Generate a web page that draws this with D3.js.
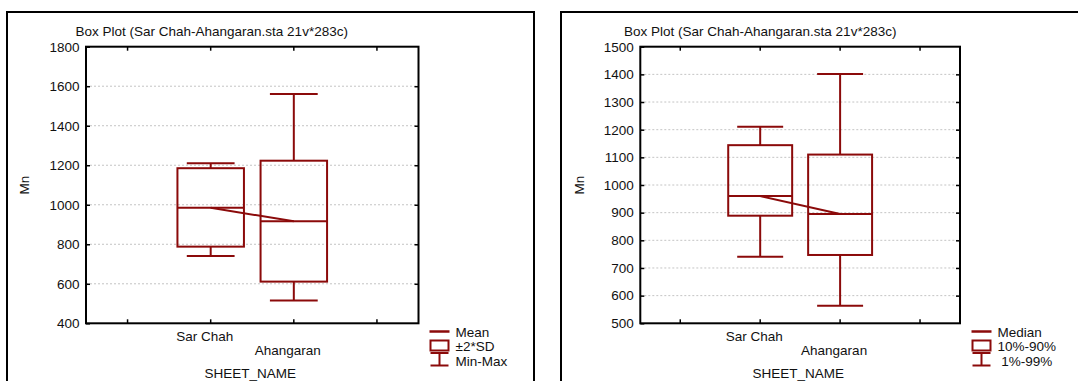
<!DOCTYPE html>
<html>
<head>
<meta charset="utf-8">
<script src="https://cdn.jsdelivr.net/npm/d3@7"></script>
<style>
  html, body { margin: 0; padding: 0; background: #fff; }
  svg { display: block; font-family: "Liberation Sans", Arial, sans-serif; }
  text { fill: #111; }
</style>
</head>
<body>
<svg id="chart" width="1078" height="381"></svg>
<script>
// Mn box plots for the two sheets
const categories = ["Sar Chah", "Ahangaran"];
const titleText = "Box Plot (Sar Chah-Ahangaran.sta 21v*283c)";

// Panel 1: mean, ±2*SD, min-max
const meanVals = [985, 916];
const sdLow    = [788, 611];
const sdHigh   = [1185, 1223];
const minVals  = [741, 515];
const maxVals  = [1210, 1561];
const ticks1   = [400, 600, 800, 1000, 1200, 1400, 1600, 1800];

// Panel 2: median, 10%-90%, 1%-99%
const medianVals = [960, 895];
const p10Vals    = [889, 747];
const p90Vals    = [1144, 1110];
const p1Vals     = [741, 563];
const p99Vals    = [1211, 1401];
const ticks2     = [500, 600, 700, 800, 900, 1000, 1100, 1200, 1300, 1400, 1500];

const legend1 = ["Mean", "±2*SD", "Min-Max"];
const legend2 = ["Median", "10%-90%", " 1%-99%"];

const RED = "#8b0a0a";
const FONT = 13.5;
const svg = d3.select("#chart");

function panel(opt) {
  const g = svg.append("g");
  // outer frame (runs off the bottom / right of the view)
  g.append("rect")
    .attr("x", opt.frame[0]).attr("y", opt.frame[1])
    .attr("width", opt.frame[2]).attr("height", opt.frame[3])
    .attr("fill", "none").attr("stroke", "#000").attr("stroke-width", 2);

  const L = opt.plot[0], R = opt.plot[1], T = opt.plot[2], B = opt.plot[3];
  const slots = ["_pre", ...categories, "_post"];
  const x = d3.scaleBand().domain(slots).range([L, R]);
  const y = d3.scaleLinear().domain([opt.ticks[0], opt.ticks[opt.ticks.length - 1]]).range([B, T]);
  const cx = c => x(c) + x.bandwidth() / 2;

  // title
  g.append("text").attr("x", opt.titleX).attr("y", 35.5)
    .attr("font-size", FONT).text(titleText);

  // grid lines
  g.append("g").selectAll("line")
    .data(opt.ticks.slice(1, -1)).join("line")
    .attr("x1", L).attr("x2", R)
    .attr("y1", d => y(d)).attr("y2", d => y(d))
    .attr("stroke", "#c4c4c4").attr("stroke-width", 1)
    .attr("stroke-dasharray", "2,2");

  // axes with inward ticks
  const yl = g.append("g").attr("transform", `translate(${L},0)`)
    .call(d3.axisLeft(y).tickValues(opt.ticks).tickSizeInner(-4).tickSizeOuter(0).tickPadding(6.5).tickFormat(d3.format("d")));
  yl.select(".domain").remove();
  yl.selectAll("text").attr("font-size", FONT).attr("font-family", "Liberation Sans, Arial, sans-serif").attr("fill", "#111");
  yl.selectAll("line").attr("stroke", "#000").attr("stroke-width", 1.5);

  const yr = g.append("g").attr("transform", `translate(${R},0)`)
    .call(d3.axisRight(y).tickValues(opt.ticks.slice(1, -1)).tickSizeInner(-4).tickSizeOuter(0).tickFormat(""));
  yr.select(".domain").remove();
  yr.selectAll("line").attr("stroke", "#000").attr("stroke-width", 1.5);

  const xb = g.append("g").attr("transform", `translate(0,${B})`)
    .call(d3.axisBottom(x).tickSizeInner(-4).tickSizeOuter(0).tickFormat(""));
  xb.select(".domain").remove();
  xb.selectAll("line").attr("stroke", "#000").attr("stroke-width", 1.5);

  const xt = g.append("g").attr("transform", `translate(0,${T})`)
    .call(d3.axisTop(x).tickSizeInner(-4).tickSizeOuter(0).tickFormat(""));
  xt.select(".domain").remove();
  xt.selectAll("line").attr("stroke", "#000").attr("stroke-width", 1.5);

  // plot frame
  g.append("rect").attr("x", L).attr("y", T).attr("width", R - L).attr("height", B - T)
    .attr("fill", "none").attr("stroke", "#000").attr("stroke-width", 2);

  // staggered category labels
  g.append("g").selectAll("text").data(categories).join("text")
    .attr("x", d => cx(d) - 6)
    .attr("y", (d, i) => B + 18 + i * 14)
    .attr("text-anchor", "middle").attr("font-size", FONT).text(d => d);

  g.append("text").attr("x", (L + R) / 2 - 2).attr("y", 377.5)
    .attr("text-anchor", "middle").attr("font-size", FONT).text("SHEET_NAME");

  g.append("text").attr("transform", `translate(${opt.ylabX},${(T + B) / 2}) rotate(-90)`)
    .attr("text-anchor", "middle").attr("font-size", FONT).text("Mn");

  // box plots
  const bw = x.bandwidth() * 0.8, cw = x.bandwidth() * 0.575;
  const marks = g.append("g").attr("fill", "none").attr("stroke", RED).attr("stroke-width", 2);
  categories.forEach((c, i) => {
    const xc = cx(c);
    marks.append("line").attr("x1", xc).attr("x2", xc).attr("y1", y(opt.hi[i])).attr("y2", y(opt.boxHi[i]));
    marks.append("line").attr("x1", xc).attr("x2", xc).attr("y1", y(opt.boxLo[i])).attr("y2", y(opt.lo[i]));
    marks.append("line").attr("x1", xc - cw / 2).attr("x2", xc + cw / 2).attr("y1", y(opt.hi[i])).attr("y2", y(opt.hi[i]));
    marks.append("line").attr("x1", xc - cw / 2).attr("x2", xc + cw / 2).attr("y1", y(opt.lo[i])).attr("y2", y(opt.lo[i]));
    marks.append("rect").attr("x", xc - bw / 2).attr("width", bw)
      .attr("y", y(opt.boxHi[i])).attr("height", y(opt.boxLo[i]) - y(opt.boxHi[i]));
    marks.append("line").attr("x1", xc - bw / 2).attr("x2", xc + bw / 2).attr("y1", y(opt.mid[i])).attr("y2", y(opt.mid[i]));
  });
  // line joining the centre values
  marks.append("path")
    .attr("d", d3.line().x((d, i) => cx(categories[i])).y(d => y(d))(opt.mid));

  // legend
  const lx = opt.legX, lg = g.append("g");
  const ls = lg.append("g").attr("fill", "none").attr("stroke", RED).attr("stroke-width", 2);
  ls.append("line").attr("x1", lx).attr("x2", lx + 20).attr("y1", 331.5).attr("y2", 331.5).attr("stroke-width", 2.5);
  ls.append("rect").attr("x", lx + 1).attr("y", 340.5).attr("width", 18).attr("height", 10);
  ls.append("line").attr("x1", lx + 1).attr("x2", lx + 19).attr("y1", 353).attr("y2", 353);
  ls.append("line").attr("x1", lx + 10).attr("x2", lx + 10).attr("y1", 353).attr("y2", 365.5);
  ls.append("line").attr("x1", lx + 1).attr("x2", lx + 19).attr("y1", 365.5).attr("y2", 365.5);
  lg.selectAll("text").data(opt.legend).join("text")
    .attr("x", lx + 26).attr("y", (d, i) => 336.5 + i * 14.5)
    .attr("font-size", FONT).attr("xml:space", "preserve").style("white-space", "pre").text(d => d);
}

panel({
  frame: [7, 12, 527, 420],
  plot: [86, 418.5, 46.7, 323.3],
  ticks: ticks1, titleX: 75.5, ylabX: 28.5, legX: 429.5,
  mid: meanVals, boxLo: sdLow, boxHi: sdHigh, lo: minVals, hi: maxVals,
  legend: legend1
});

panel({
  frame: [561, 12, 540, 420],
  plot: [640.3, 960, 46.7, 323.3],
  ticks: ticks2, titleX: 624, ylabX: 583.5, legX: 971.5,
  mid: medianVals, boxLo: p10Vals, boxHi: p90Vals, lo: p1Vals, hi: p99Vals,
  legend: legend2
});
</script>
</body>
</html>
